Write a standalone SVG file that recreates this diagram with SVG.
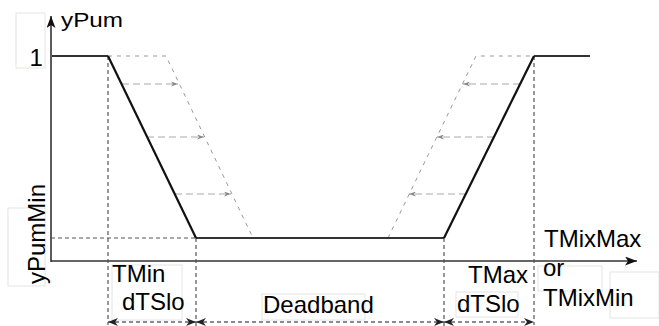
<svg xmlns="http://www.w3.org/2000/svg" width="659" height="326" viewBox="0 0 659 326">
<style>
text{font-family:"Liberation Sans",Arial,sans-serif;font-size:24px;fill:#000}
.box{fill:none;stroke:#e4e4e4;stroke-width:1}
.axis{stroke:#333;stroke-width:1.6;fill:none}
.curve{stroke:#111;stroke-width:2.2;fill:none;stroke-linejoin:miter}
.flat{stroke:#333;stroke-width:2;fill:none}
.guide{stroke:#555;stroke-width:1.2;stroke-dasharray:4 3;fill:none}
.shift{stroke:#999;stroke-width:1;stroke-dasharray:4 5;fill:none}
.move{stroke:#aaa;stroke-width:1.2;stroke-dasharray:7 4;fill:none}
.dim{stroke:#666;stroke-width:1.6;stroke-dasharray:4 3;fill:none}
</style>
<defs>
<marker id="axisHead" markerUnits="userSpaceOnUse" markerWidth="12" markerHeight="9" refX="12" refY="4.5" orient="auto">
<path d="M0,0 L12,4.5 L0,9 L3,4.5 z" fill="#111"/>
</marker>
<marker id="dimHead" markerUnits="userSpaceOnUse" markerWidth="10" markerHeight="8" refX="10" refY="4" orient="auto-start-reverse">
<path d="M0,0 L10,4 L0,8 L3,4 z" fill="#222"/>
</marker>
<marker id="moveHead" markerUnits="userSpaceOnUse" markerWidth="7" markerHeight="5" refX="7" refY="2.5" orient="auto">
<path d="M0,0 L7,2.5 L0,5 L2,2.5 z" fill="#888"/>
</marker>
</defs>

<g id="boxes">
<rect class="box" x="16" y="13" width="29" height="55"/>
<rect class="box" x="8" y="208" width="37" height="78"/>
<rect class="box" x="112" y="265" width="70" height="55"/>
<rect class="box" x="262" y="294" width="103" height="26"/>
<rect class="box" x="456" y="292" width="62" height="25"/>
<rect class="box" x="538" y="266" width="64" height="25"/>
<rect class="box" x="610" y="272" width="49" height="46"/>
</g>

<g id="connectors">
<!-- axes -->
<line class="axis" x1="51" y1="262" x2="51" y2="16" marker-end="url(#axisHead)"/>
<line class="axis" x1="51" y1="261" x2="637" y2="261" marker-end="url(#axisHead)"/>
<!-- guides -->
<line class="guide" x1="51" y1="238" x2="196" y2="238"/>
<line class="guide" x1="108" y1="56" x2="108" y2="325"/>
<line class="guide" x1="196" y1="238" x2="196" y2="326"/>
<line class="guide" x1="444" y1="238" x2="444" y2="326"/>
<line class="guide" x1="534" y1="56" x2="534" y2="325"/>
<!-- shifted curve -->
<polyline class="shift" points="108,56 166,56 253,238"/>
<polyline class="shift" points="388,238 476,56 534,56"/>
<!-- shift arrows -->
<line class="move" x1="122" y1="84" x2="178" y2="84" marker-end="url(#moveHead)"/>
<line class="move" x1="147" y1="137" x2="204" y2="137" marker-end="url(#moveHead)"/>
<line class="move" x1="175" y1="194" x2="231" y2="194" marker-end="url(#moveHead)"/>
<line class="move" x1="520" y1="84" x2="463" y2="84" marker-end="url(#moveHead)"/>
<line class="move" x1="494" y1="137" x2="437" y2="137" marker-end="url(#moveHead)"/>
<line class="move" x1="466" y1="194" x2="409" y2="194" marker-end="url(#moveHead)"/>
<!-- main curve -->
<line class="flat" x1="52" y1="56" x2="108" y2="56"/>
<line class="flat" x1="196" y1="238" x2="444" y2="238"/>
<line class="flat" x1="534" y1="56" x2="590" y2="56"/>
<polyline class="curve" points="108,56 196,238"/>
<polyline class="curve" points="444,238 534,56"/>
<!-- dimensions -->
<line class="dim" x1="108" y1="322" x2="196" y2="322" marker-start="url(#dimHead)" marker-end="url(#dimHead)"/>
<line class="dim" x1="196" y1="322" x2="444" y2="322" marker-start="url(#dimHead)" marker-end="url(#dimHead)"/>
<line class="dim" x1="444" y1="322" x2="534" y2="322" marker-start="url(#dimHead)" marker-end="url(#dimHead)"/>
</g>

<g id="label-yPum"><text x="61" y="27" font-size="20" textLength="62" lengthAdjust="spacingAndGlyphs" style="font-size:20px">yPum</text></g>
<g id="label-1"><text x="29.5" y="66">1</text></g>
<g id="label-yPumMin"><text transform="translate(45,284) rotate(-90)">yPumMin</text></g>
<g id="label-TMin"><text x="112" y="282">TMin</text><text x="122" y="310">dTSlo</text></g>
<g id="label-Deadband"><text x="263" y="313">Deadband</text></g>
<g id="label-TMax"><text x="468" y="283">TMax</text><text x="457" y="312">dTSlo</text></g>
<g id="label-TMix"><text x="544" y="247">TMixMax</text><text x="543" y="276">or</text><text x="543" y="306">TMixMin</text></g>
</svg>
